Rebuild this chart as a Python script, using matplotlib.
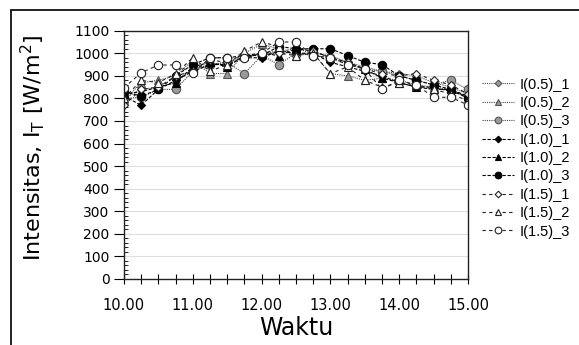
import matplotlib
matplotlib.use("Agg")
import matplotlib.pyplot as plt
from matplotlib.patches import Rectangle
from matplotlib.ticker import MultipleLocator, FixedLocator, FuncFormatter

times = [10.00, 10.25, 10.50, 10.75, 11.00, 11.25, 11.50, 11.75, 12.00, 12.25, 12.50,
         12.75, 13.00, 13.25, 13.50, 13.75, 14.00, 14.25, 14.50, 14.75, 15.00]

I05_1 = [800, 840, 850, 870, 930, 950, 960, 980, 1000, 1010, 1020, 1000, 990, 960, 940, 920, 910, 900, 870, 850, 820]
I05_2 = [790, 870, 880, 900, 970, 910, 910, 1000, 1040, 1020, 990, 1000, 910, 900, 880, 890, 880, 860, 850, 840, 800]
I05_3 = [800, 805, 840, 840, 920, 950, 960, 910, 990, 950, 1000, 990, 980, 950, 930, 920, 900, 880, 860, 880, 840]
I10_1 = [810, 770, 840, 880, 920, 950, 950, 980, 980, 1010, 1000, 1000, 960, 940, 920, 900, 870, 850, 850, 830, 810]
I10_2 = [820, 830, 850, 870, 940, 960, 940, 990, 1000, 990, 1020, 1010, 980, 960, 930, 890, 870, 850, 840, 840, 810]
I10_3 = [830, 810, 840, 900, 950, 980, 980, 990, 990, 1030, 1020, 1020, 1020, 990, 960, 950, 900, 880, 860, 840, 800]
I15_1 = [770, 840, 850, 900, 920, 970, 960, 980, 1000, 1000, 990, 1010, 980, 960, 930, 910, 900, 910, 880, 860, 820]
I15_2 = [800, 880, 870, 910, 980, 920, 950, 1010, 1050, 1030, 990, 1000, 910, 940, 880, 850, 870, 860, 840, 820, 790]
I15_3 = [847, 914, 948, 948, 912, 980, 980, 980, 1000, 1050, 1050, 990, 980, 950, 930, 840, 880, 860, 805, 805, 771]

labels = ["I(0.5)_1", "I(0.5)_2", "I(0.5)_3", "I(1.0)_1", "I(1.0)_2", "I(1.0)_3",
          "I(1.5)_1", "I(1.5)_2", "I(1.5)_3"]
series = [I05_1, I05_2, I05_3, I10_1, I10_2, I10_3, I15_1, I15_2, I15_3]

markers = ["D", "^", "o", "D", "^", "o", "D", "^", "o"]
msizes = [4.2, 5.5, 6, 4.2, 5.5, 6, 4.2, 5.5, 6]
faces = ["#9a9a9a"] * 3 + ["black"] * 3 + ["white"] * 3
edges = ["#555555"] * 3 + ["black"] * 3 + ["#222222"] * 3
lstyles = [(0, (1, 1))] * 3 + [(0, (3, 1.5))] * 3 + [(0, (3, 3))] * 3
lcolors = ["#444444"] * 3 + ["black"] * 3 + ["#222222"] * 3

fig = plt.figure(figsize=(5.79, 3.45), dpi=100)
fig.patch.set_facecolor("white")
fig.patches.append(Rectangle((11 / 579, -0.1), 1.2, 1 - 10 / 345 + 0.1,
                             transform=fig.transFigure, fill=False,
                             edgecolor="#111111", linewidth=1.3))

ax = fig.add_axes([124 / 579, 1 - 279 / 345, (468 - 124) / 579, (279 - 30.7) / 345])

for y, lab, m, ms, fc, ec, ls, lc in zip(series, labels, markers, msizes, faces, edges, lstyles, lcolors):
    ax.plot(times, y, linestyle=ls, color=lc, linewidth=0.8, marker=m, markersize=ms,
            markerfacecolor=fc, markeredgecolor=ec, markeredgewidth=0.8, label=lab)

ax.set_xlim(10.0, 15.0)
ax.set_ylim(0, 1100)
ax.yaxis.set_major_locator(MultipleLocator(100))
ax.yaxis.set_minor_locator(MultipleLocator(20))
ax.xaxis.set_major_locator(FixedLocator([10, 11, 12, 13, 14, 15]))
ax.xaxis.set_minor_locator(MultipleLocator(0.25))
ax.xaxis.set_major_formatter(FuncFormatter(lambda v, p: f"{v:.2f}"))
ax.grid(axis="y", which="major", color="#dedede", linewidth=0.8)
ax.set_axisbelow(True)

for sp in ax.spines.values():
    sp.set_color("#222222")
    sp.set_linewidth(1.0)

ax.tick_params(axis="y", which="major", direction="out", length=7, width=0.8, labelsize=10, pad=3.5)
ax.tick_params(axis="y", which="minor", direction="in", length=3, width=0.6)
ax.tick_params(axis="x", which="both", direction="inout", length=7, width=0.8, labelsize=10.5, pad=10)

ax.set_xlabel("Waktu", fontsize=17, labelpad=2)
ax.set_ylabel("Intensitas, I$_\\mathregular{T}$ [W/m$^\\mathregular{2}$]", fontsize=16)
ax.yaxis.set_label_coords(-0.224, 0.53)

leg = ax.legend(loc="center left", bbox_to_anchor=(1.041, 0.487), frameon=False,
                prop={"family": "Liberation Sans", "size": 10.5}, handlelength=2.2,
                labelspacing=0.3, handletextpad=0.4, borderaxespad=0, borderpad=0,
                markerscale=0.8)

fig.savefig("out.png", dpi=100, facecolor="white")
